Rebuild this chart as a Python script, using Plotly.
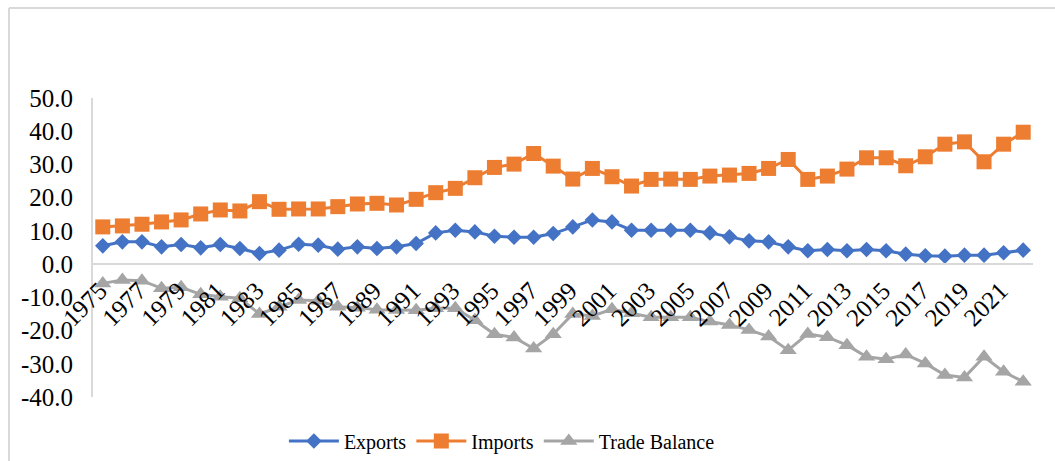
import plotly.graph_objects as go

years = [str(y) for y in range(1975, 2023)]

exports = [5.5, 6.7, 6.7, 5.2, 5.9, 4.9, 5.9, 4.7, 3.2, 4.2, 6.0, 5.7, 4.5, 5.2,
           4.7, 5.2, 6.2, 9.4, 10.2, 9.7, 8.4, 8.1, 8.1, 9.2, 11.2, 13.3, 12.7,
           10.2, 10.2, 10.2, 10.2, 9.4, 8.2, 7.0, 6.7, 5.2, 4.0, 4.4, 4.0, 4.4,
           4.0, 3.0, 2.5, 2.4, 2.7, 2.7, 3.4, 4.2]

imports = [11.2, 11.5, 12.0, 12.7, 13.3, 15.1, 16.3, 16.0, 18.8, 16.5, 16.6, 16.6,
           17.3, 18.1, 18.3, 17.8, 19.5, 21.5, 22.8, 26.0, 29.1, 30.1, 33.3, 29.5,
           25.6, 28.8, 26.3, 23.5, 25.5, 25.6, 25.5, 26.5, 26.8, 27.3, 28.8, 31.5,
           25.5, 26.5, 28.6, 32.0, 32.0, 29.6, 32.3, 36.1, 36.8, 30.8, 36.1, 39.7]

trade_balance = [-5.8, -4.8, -5.0, -7.3, -7.0, -9.1, -9.8, -10.3, -15.0, -12.8,
                 -10.8, -11.0, -12.8, -13.1, -13.7, -13.8, -13.9, -13.3, -13.3,
                 -16.9, -21.1, -22.1, -25.4, -21.1, -15.0, -15.6, -13.6, -14.8,
                 -16.0, -16.0, -16.0, -17.3, -18.3, -19.8, -21.8, -25.9, -21.0,
                 -22.0, -24.4, -27.9, -28.6, -27.2, -29.9, -33.4, -34.1, -27.9,
                 -32.4, -35.4]

y_ticks = [50, 40, 30, 20, 10, 0, -10, -20, -30, -40]

FONT = "Liberation Serif"

fig = go.Figure()
fig.add_trace(go.Scatter(x=years, y=exports, name="Exports", mode="lines+markers",
                         line=dict(color="#4472C4", width=3),
                         marker=dict(symbol="diamond", size=12, color="#4472C4"),
                         cliponaxis=False))
fig.add_trace(go.Scatter(x=years, y=imports, name="Imports", mode="lines+markers",
                         line=dict(color="#ED7D31", width=3),
                         marker=dict(symbol="square", size=15, color="#ED7D31"),
                         cliponaxis=False))
fig.add_trace(go.Scatter(x=years, y=trade_balance, name="Trade Balance", mode="lines+markers",
                         line=dict(color="#A5A5A5", width=3),
                         marker=dict(symbol="triangle-up", size=15, color="#A5A5A5"),
                         cliponaxis=False))

fig.update_layout(
    width=1055, height=461,
    margin=dict(l=93, r=22, t=98, b=64, autoexpand=False),
    paper_bgcolor="white", plot_bgcolor="white",
    font=dict(family=FONT, size=20, color="black"),
    showlegend=True,
    legend=dict(orientation="h", x=0.435, xanchor="center", y=-0.147, yanchor="middle",
                font=dict(family=FONT, size=20, color="black"), itemwidth=50),
    xaxis=dict(type="category", range=[-0.5, 47.5], anchor="free", position=40 / 90,
               automargin=False,
               showline=True, linecolor="#d9d9d9", linewidth=2, showgrid=False,
               zeroline=False, ticks="", tickvals=years[::2], ticktext=years[::2],
               tickangle=-45, tickfont=dict(family=FONT, size=25, color="black"),
               ticklabelstandoff=1, ticklabelshift=-3),
    yaxis=dict(range=[-40, 50], tickvals=y_ticks, ticktext=[f"{v:.1f}" for v in y_ticks],
               automargin=False,
               showline=True, linecolor="#d9d9d9", linewidth=2, showgrid=False,
               zeroline=False, ticks="", tickfont=dict(family=FONT, size=25, color="black"),
               ticklabelstandoff=13),
    shapes=[
        dict(type="line", xref="paper", yref="paper", x0=(9 - 93) / 940, x1=1.2,
             y0=(397 - 8) / 299, y1=(397 - 8) / 299, line=dict(color="#d9d9d9", width=2)),
        dict(type="line", xref="paper", yref="paper", x0=(9 - 93) / 940, x1=(9 - 93) / 940,
             y0=(397 - 8) / 299, y1=-0.5, line=dict(color="#d9d9d9", width=2)),
    ],
)

fig.write_html("out.html")
